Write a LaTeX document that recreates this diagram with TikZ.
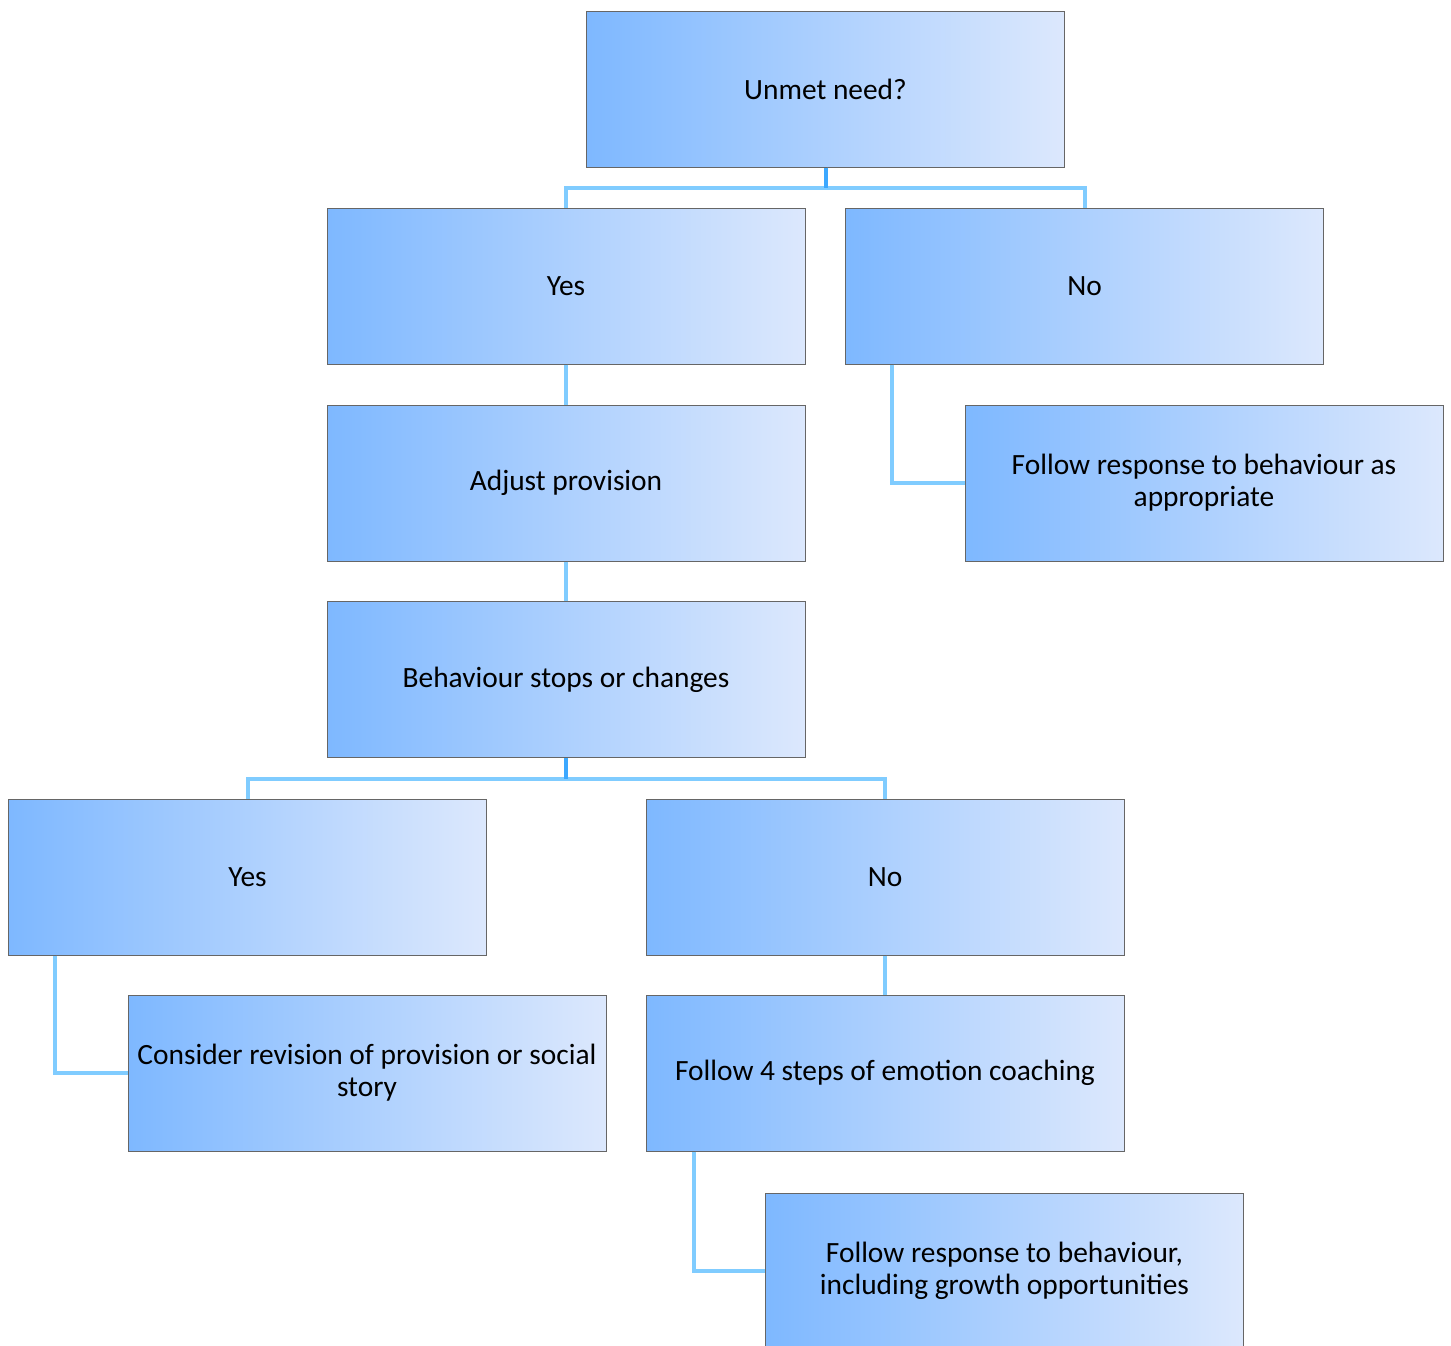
\documentclass[tikz,border=0pt]{standalone}
\usepackage{fontspec}
\setmainfont{Carlito}
\usetikzlibrary{positioning}
\definecolor{boxleft}{RGB}{126,184,255}
\definecolor{boxright}{RGB}{220,232,253}
\definecolor{linkblue}{RGB}{128,204,255}
\definecolor{stubblue}{RGB}{60,168,255}
\tikzset{
  block/.style={
    rectangle,
    draw=black!60,
    line width=0.5pt,
    left color=boxleft,
    right color=boxright,
    minimum width=239pt,
    minimum height=78pt,
    align=center,
    font=\fontsize{14.7pt}{16pt}\selectfont
  }
}
\tikzstyle{link} = [draw=linkblue, line width=2pt]
\tikzstyle{stub} = [draw=stubblue, line width=2pt]

\begin{document}
\begin{tikzpicture}[x=0.5pt, y=-0.5pt]
    \useasboundingbox (0,0) rectangle (1451,1345);
    \node[block] (need) at (825.5, 89) {Unmet need?};
    \node[block] (yes1) at (566, 286) {Yes};
    \node[block] (no1) at (1084.5, 286) {No};
    \node[block] (adjust) at (566, 483) {Adjust provision};
    \node[block] (resp1) at (1204, 483) {Follow response to behaviour as\\appropriate};
    \node[block] (behav) at (566, 679.5) {Behaviour stops or changes};
    \node[block] (yes2) at (247.5, 877) {Yes};
    \node[block] (no2) at (885, 877) {No};
    \node[block] (revise) at (367, 1073) {Consider revision of provision or social\\story};
    \node[block] (coach) at (885, 1073) {Follow 4 steps of emotion coaching};
    \node[block] (resp2) at (1004.5, 1271) {Follow response to behaviour,\\including growth opportunities};
    \draw[link] (need.south) -- ++(0,20) -| (yes1.north);
    \draw[link] (need.south) -- ++(0,20) -| (no1.north);
    \draw[stub] (need.south) -- ++(0,20);
    \draw[link] (yes1) -- (adjust);
    \draw[link] ([xshift=23.5pt]no1.south west) |- (resp1.west);
    \draw[link] (adjust) -- (behav);
    \draw[link] (behav.south) -- ++(0,21) -| (yes2.north);
    \draw[link] (behav.south) -- ++(0,21) -| (no2.north);
    \draw[stub] (behav.south) -- ++(0,21);
    \draw[link] ([xshift=23.5pt]yes2.south west) |- (revise.west);
    \draw[link] (no2) -- (coach);
    \draw[link] ([xshift=24pt]coach.south west) |- (resp2.west);
  \end{tikzpicture}
\end{document}
